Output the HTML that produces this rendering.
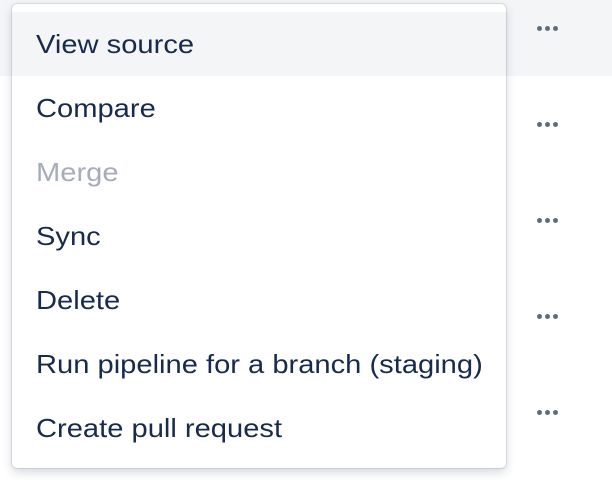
<!DOCTYPE html>
<html><head><style>
body{margin:0;width:612px;height:480px;background:#fff;position:relative;overflow:hidden;font-family:"Liberation Sans",sans-serif}
.band{position:absolute;left:0;top:0;width:612px;height:76px;background:#f4f5f7}
.menu{position:absolute;left:12px;top:4px;width:494px;height:464px;background:#fff;border-radius:5px;box-shadow:0 0 0 1px rgba(9,30,66,0.1),0 4px 10px rgba(9,30,66,0.18);overflow:hidden}
.item{height:64px;line-height:65px;padding-left:24px;font-size:26px;color:#172b4d;white-space:nowrap}
.item span{display:inline-block;transform:scaleX(1.12);transform-origin:0 50%}
.item:first-child{margin-top:8px;background:#f4f5f7}
.dis{color:#a5adba}
.dots{position:absolute;left:537px;font-size:0}
.dots i{display:inline-block;width:5px;height:5px;border-radius:50%;background:#5e6c84;margin-right:3px}
</style></head><body>
<div class="band"></div>
<div class="dots" style="top:26px"><i></i><i></i><i></i></div>
<div class="dots" style="top:122px"><i></i><i></i><i></i></div>
<div class="dots" style="top:218px"><i></i><i></i><i></i></div>
<div class="dots" style="top:314px"><i></i><i></i><i></i></div>
<div class="dots" style="top:410px"><i></i><i></i><i></i></div>
<div class="menu">
<div class="item"><span>View source</span></div>
<div class="item"><span>Compare</span></div>
<div class="item dis"><span>Merge</span></div>
<div class="item"><span>Sync</span></div>
<div class="item"><span>Delete</span></div>
<div class="item"><span>Run pipeline for a branch (staging)</span></div>
<div class="item"><span>Create pull request</span></div>
</div>
</body></html>
